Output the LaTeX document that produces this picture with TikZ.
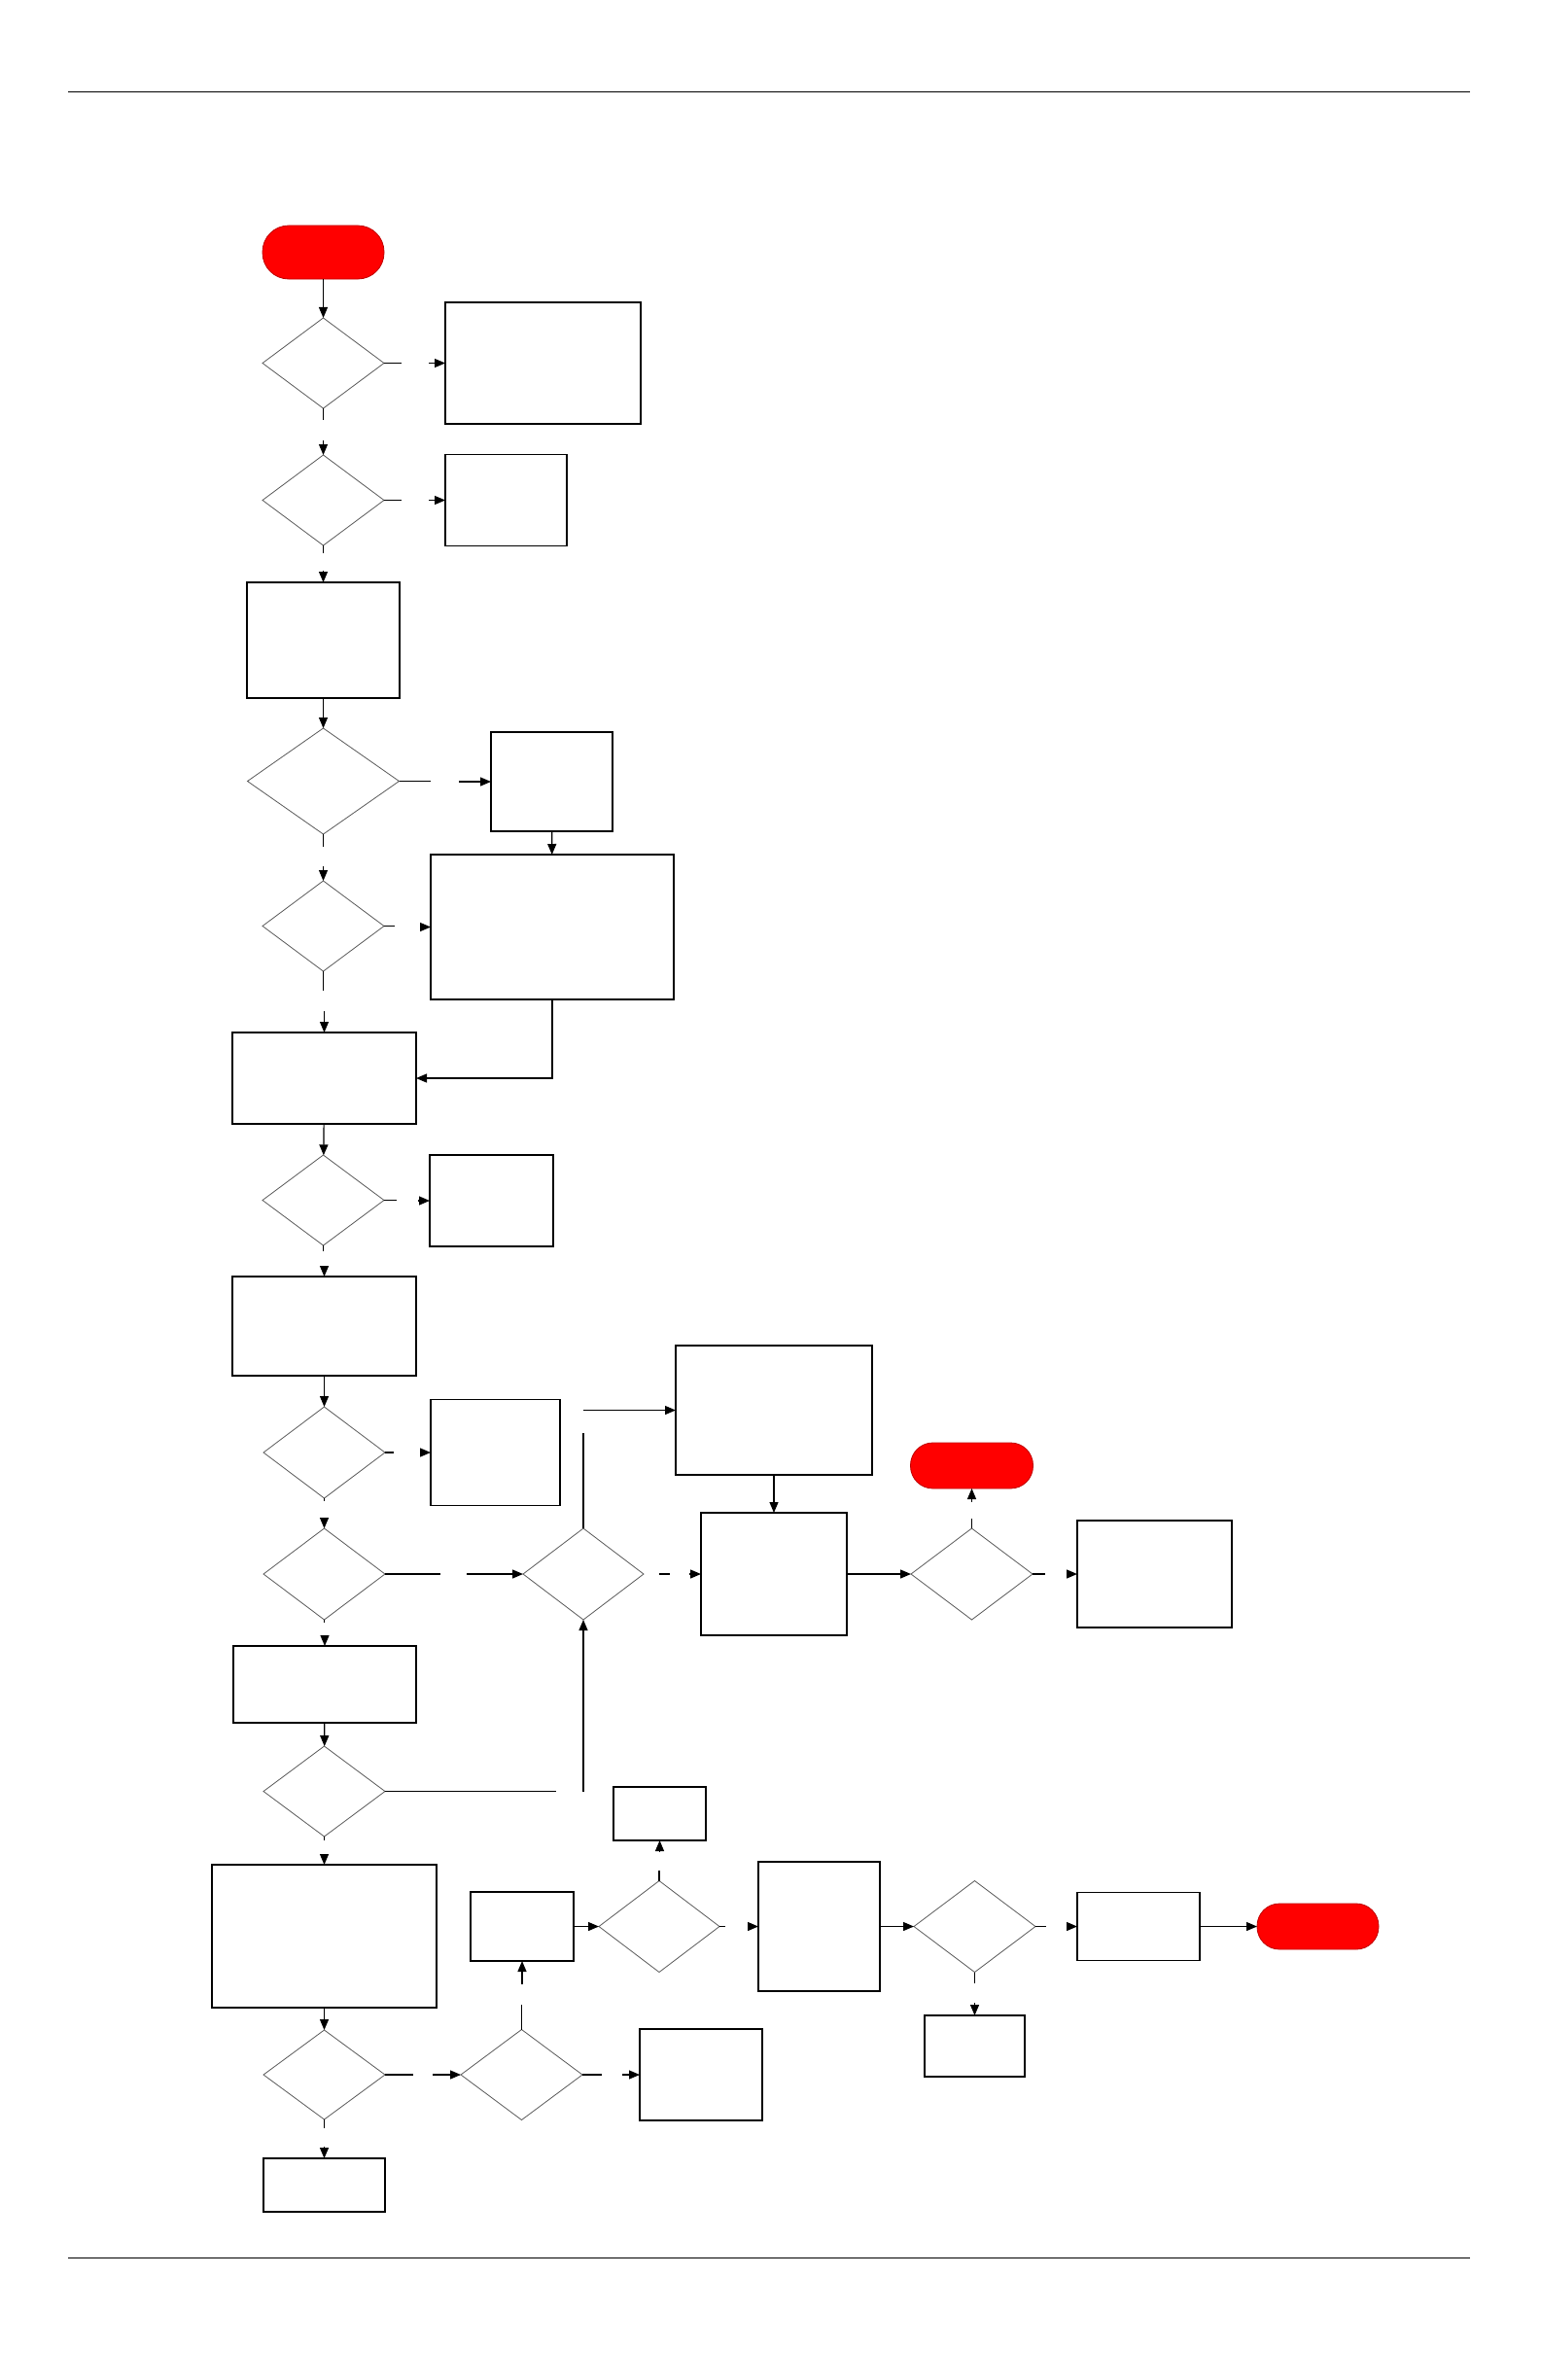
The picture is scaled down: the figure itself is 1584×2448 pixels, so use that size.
\documentclass[tikz,border=0pt]{standalone}
\usetikzlibrary{shapes.geometric,arrows.meta,calc}
\definecolor{termred}{RGB}{255,0,0}
\definecolor{termedge}{RGB}{190,0,0}
\tikzset{
  box/.style={draw=black, line width=1.2pt, fill=white, rectangle, inner sep=0pt, outer sep=0pt},
  dec/.style={draw=black!65, line width=0.8pt, diamond, inner sep=0pt, outer sep=0pt},
  term/.style={draw=termedge, fill=termred, line width=0.8pt, rectangle, rounded corners=23pt, inner sep=0pt, outer sep=0pt},
  sz/.style n args={2}{minimum width=#1pt, minimum height=#2pt},
  conn/.style={line width=1.2pt},
  arr/.style={conn, -{Triangle[length=11pt,width=9pt]}},
  rule/.style={line width=1pt, black}
}
\begin{document}
\begin{tikzpicture}[x=1pt,y=-1pt]
\useasboundingbox (0,0) rectangle (1584,2448);
\draw[rule] (70,95) -- (1512,95);
\draw[rule] (70,2322) -- (1512,2322);

% nodes
\node[term, rounded corners=27pt, sz={125}{55}] (start) at (332.5,259.5) {};
\node[dec, sz={125}{93}] (D1) at (332.5,373.5) {};
\node[box, sz={201}{125}] (A) at (558.5,373.5) {};
\node[dec, sz={125}{93}] (D2) at (332.5,514.5) {};
\node[box, sz={125}{94}] (B) at (520.5,514.5) {};
\node[box, sz={157}{119}] (C) at (332.5,658.5) {};
\node[dec, sz={156}{109}] (D3) at (332.5,803.5) {};
\node[box, sz={125}{102}] (D) at (567.5,804) {};
\node[box, sz={250}{149}] (E) at (568,953.5) {};
\node[dec, sz={125}{93}] (D4) at (332.5,952.5) {};
\node[box, sz={189}{94}] (F) at (333.5,1109) {};
\node[dec, sz={125}{93}] (D5) at (332.5,1234.5) {};
\node[box, sz={127}{94}] (G) at (505.5,1235) {};
\node[box, sz={189}{102}] (H) at (333.5,1364) {};
\node[dec, sz={125}{94}] (D6) at (333.5,1494) {};
\node[box, sz={133}{109}] (K) at (509.5,1494) {};
\node[box, sz={202}{133}] (J) at (796,1450.5) {};
\node[dec, sz={125}{94}] (D7) at (333.5,1619) {};
\node[dec, sz={124}{94}] (M) at (600,1619) {};
\node[box, sz={150}{126}] (N) at (796,1619) {};
\node[dec, sz={125}{94}] (D8) at (999.5,1619) {};
\node[term, sz={126}{47}] (T1) at (999.5,1507.5) {};
\node[box, sz={159}{110}] (O) at (1187.5,1619) {};
\node[box, sz={188}{79}] (I) at (334,1732.5) {};
\node[dec, sz={125}{93}] (D9) at (333.5,1842.5) {};
\node[box, sz={231}{147}] (P) at (333.5,1991.5) {};
\node[dec, sz={125}{92}] (D10) at (333.5,2134) {};
\node[box, sz={125}{55}] (Q) at (333.5,2247.5) {};
\node[dec, sz={125}{93}] (D11) at (536.5,2134) {};
\node[box, sz={106}{71}] (R) at (537,1981.5) {};
\node[box, sz={126}{94}] (W) at (721,2134) {};
\node[box, sz={95}{55}] (S) at (678.5,1865.5) {};
\node[dec, sz={124}{94}] (D12) at (678,1981.5) {};
\node[box, sz={125}{133}] (T) at (842.5,1981.5) {};
\node[dec, sz={125}{94}] (D13) at (1002.5,1981.5) {};
\node[box, sz={126}{70}] (U) at (1171,1981.5) {};
\node[term, sz={125}{47}] (T2) at (1355.5,1981.5) {};
\node[box, sz={103}{63}] (V) at (1002.5,2104.5) {};

% full connectors
\draw[arr] (start) -- (D1);
\draw[arr] (C) -- (D3);
\draw[arr] (D) -- (E);
\draw[arr] (E.south) |- (F.east);
\draw[arr] (F) -- (D5);
\draw[arr] (H) -- (D6);
\draw[arr] (J) -- (N);
\draw[arr] (N) -- (D8);
\draw[arr] (I) -- (D9);
\draw[arr] (P) -- (D10);
\draw[arr] (R) -- (D12);
\draw[arr] (T) -- (D13);
\draw[arr] (U) -- (T2);

% connectors with gaps (labels removed)
\draw[conn] (D1.east) -- ++(18,0);
\draw[arr] ($(A.west)+(-17,0)$) -- (A.west);
\draw[conn] (D1.south) -- ++(0,12);
\draw[arr] ($(D2.north)+(0,-15)$) -- (D2.north);
\draw[conn] (D2.east) -- ++(18,0);
\draw[arr] ($(B.west)+(-17,0)$) -- (B.west);
\draw[conn] (D2.south) -- ++(0,8);
\draw[arr] ($(C.north)+(0,-12)$) -- (C.north);
\draw[conn] (D3.east) -- ++(32,0);
\draw[arr] ($(D.west)+(-33,0)$) -- (D.west);
\draw[conn] (D3.south) -- ++(0,13);
\draw[arr] ($(D4.north)+(0,-15)$) -- (D4.north);
\draw[conn] (D4.east) -- ++(11,0);
\draw[arr] ($(E.west)+(-11,0)$) -- (E.west);
\draw[conn] (D4.south) -- ++(0,20);
\draw[arr] ($(F.north)+(0,-22)$) -- (F.north);
\draw[conn] (D5.east) -- ++(13,0);
\draw[arr] ($(G.west)+(-12,0)$) -- (G.west);
\draw[conn] (D5.south) -- ++(0,6);
\draw[arr] ($(H.north)+(0,-11)$) -- (H.north);
\draw[conn] (D6.east) -- ++(9,0);
\draw[arr] ($(K.west)+(-11,0)$) -- (K.west);
\draw[conn] (D6.south) -- ++(0,3);
\draw[arr] ($(D7.north)+(0,-11)$) -- (D7.north);
\draw[conn] (D7.east) -- ++(57,0);
\draw[arr] ($(M.west)+(-58,0)$) -- (M.west);
\draw[conn] (D7.south) -- ++(0,3);
\draw[arr] ($(I.north)+(0,-11)$) -- (I.north);
\draw[conn] ($(M.east)+(16,0)$) -- ++(11,0);
\draw[arr] ($(N.west)+(-12,0)$) -- (N.west);
\draw[conn] (M.north) -- ++(0,-98);
\coordinate (mj) at (M.north |- J.west);
\draw[arr] (mj) -- (J.west);
\draw[conn] (D8.north) -- ++(0,-10);
\draw[arr] ($(T1.south)+(0,14)$) -- (T1.south);
\draw[conn] (D8.east) -- ++(13,0);
\draw[arr] ($(O.west)+(-11,0)$) -- (O.west);
\draw[conn] (D9.east) -- ++(176,0);
\coordinate (mb) at (M.south |- D9.east);
\draw[arr] (mb) -- (M.south);
\draw[conn] (D9.south) -- ++(0,4);
\draw[arr] ($(P.north)+(0,-11)$) -- (P.north);
\draw[conn] (D10.east) -- ++(29,0);
\draw[arr] ($(D11.west)+(-29,0)$) -- (D11.west);
\draw[conn] (D10.south) -- ++(0,9);
\draw[arr] ($(Q.north)+(0,-12)$) -- (Q.north);
\draw[conn] (D11.north) -- ++(0,-26);
\draw[arr] ($(R.south)+(0,24)$) -- (R.south);
\draw[conn] (D11.east) -- ++(20,0);
\draw[arr] ($(W.west)+(-18,0)$) -- (W.west);
\draw[conn] (D12.north) -- ++(0,-11);
\draw[arr] ($(S.south)+(0,12)$) -- (S.south);
\draw[conn] (D12.east) -- ++(6,0);
\draw[arr] ($(T.west)+(-11,0)$) -- (T.west);
\draw[conn] (D13.east) -- ++(11,0);
\draw[arr] ($(U.west)+(-11,0)$) -- (U.west);
\draw[conn] (D13.south) -- ++(0,11);
\draw[arr] ($(V.north)+(0,-13)$) -- (V.north);
\end{tikzpicture}
\end{document}
